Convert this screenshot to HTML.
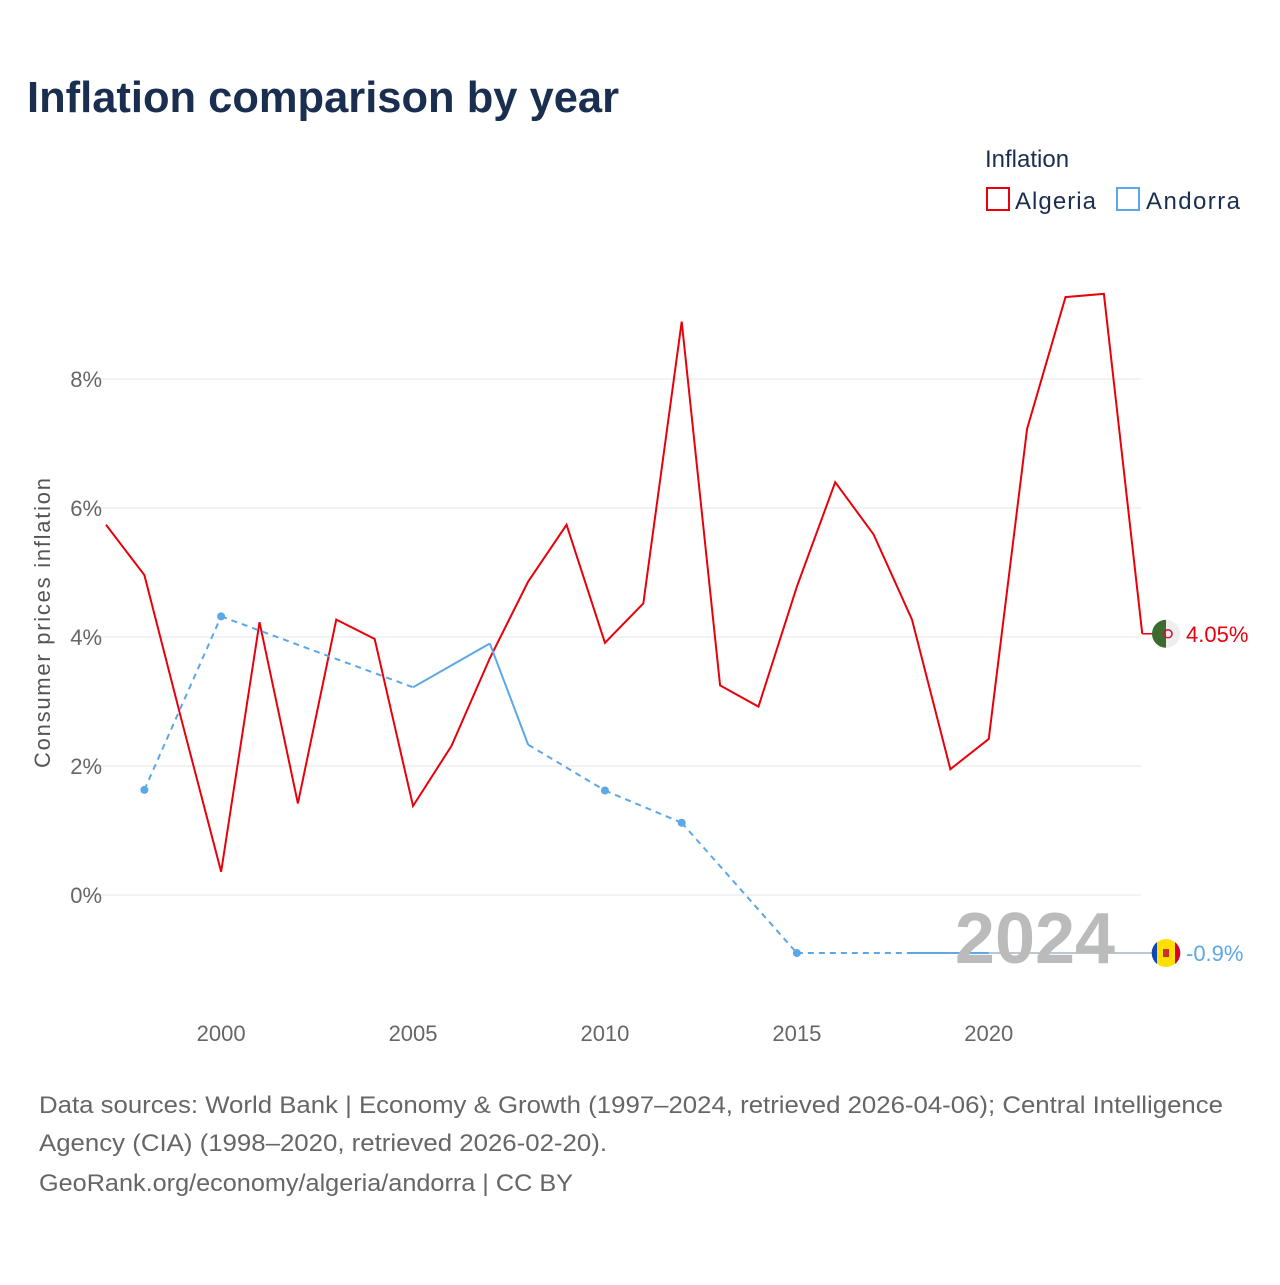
<!DOCTYPE html>
<html><head><meta charset="utf-8"><style>
body{margin:0;background:#fff;font-family:"Liberation Sans",sans-serif}
</style></head><body>
<svg id="c" width="1280" height="1280" xmlns="http://www.w3.org/2000/svg" style="font-family:'Liberation Sans',sans-serif">
<text x="27" y="112" font-size="44" font-weight="bold" fill="#1a2e4f" textLength="592" lengthAdjust="spacingAndGlyphs">Inflation comparison by year</text>
<g>
<text x="985" y="167" font-size="24" fill="#1a2e4f">Inflation</text>
<g><rect x="987" y="188" width="22" height="22" fill="none" stroke="#e8000b" stroke-width="2"/><text x="1015" y="209" font-size="24" fill="#1a2e4f" textLength="81">Algeria</text></g>
<g><rect x="1117" y="188" width="22" height="22" fill="none" stroke="#5ba7e8" stroke-width="2"/><text x="1146" y="209" font-size="24" fill="#1a2e4f" textLength="94">Andorra</text></g>
</g>
<g id="grid"></g><g id="marks"></g>
<text transform="translate(50,623) rotate(-90)" text-anchor="middle" font-size="22" fill="#555" textLength="290">Consumer prices inflation</text>
<text x="1035" y="963" text-anchor="middle" font-size="72" font-weight="bold" fill="#bbb">2024</text>
<g font-size="24" fill="#666">
<text x="39" y="1113" textLength="1184" lengthAdjust="spacingAndGlyphs">Data sources: World Bank | Economy &amp; Growth (1997–2024, retrieved 2026-04-06); Central Intelligence</text>
<text x="39" y="1151" textLength="568" lengthAdjust="spacingAndGlyphs">Agency (CIA) (1998–2020, retrieved 2026-02-20).</text>
<text x="39" y="1191" textLength="534" lengthAdjust="spacingAndGlyphs">GeoRank.org/economy/algeria/andorra | CC BY</text>
</g>
</svg>
<script>
const algYears=[1997,1998,1999,2000,2001,2002,2003,2004,2005,2006,2007,2008,2009,2010,2011,2012,2013,2014,2015,2016,2017,2018,2019,2020,2021,2022,2023,2024];
const algValues=[5.74,4.96,2.64,0.36,4.23,1.42,4.27,3.97,1.38,2.31,3.67,4.86,5.74,3.91,4.52,8.89,3.25,2.92,4.78,6.40,5.59,4.27,1.95,2.42,7.23,9.27,9.32,4.05];
const andYears=[1998,2000,2005,2006,2007,2008,2010,2012,2015,2018,2019,2020];
const andValues=[1.63,4.32,3.22,3.56,3.9,2.33,1.62,1.12,-0.9,-0.9,-0.9,-0.9];
const yTicks=[0,2,4,6,8];
const xTicks=[2000,2005,2010,2015,2020];
const NS="http://www.w3.org/2000/svg";
const X=y=>106+(y-1997)*38.38;
const Y=v=>895-v*64.5;
function mk(t,a,p){const e=document.createElementNS(NS,t);for(const k in a)e.setAttribute(k,a[k]);p.appendChild(e);return e;}
const g=document.getElementById('grid'),m=document.getElementById('marks');
yTicks.forEach(v=>{
const l=mk('line',{x1:88,x2:1141,y1:Y(v),y2:Y(v),stroke:'#e6e6e6'},g);


const t=mk('text',{x:102,y:Y(v)+8,'text-anchor':'end','font-size':22,fill:'#666'},g);t.textContent=v+'%';


});
xTicks.forEach(v=>{
const t=mk('text',{x:X(v),y:1041,'text-anchor':'middle','font-size':22,fill:'#666'},g);t.textContent=v;


});
const ap=mk('polyline',{points:algYears.map((y,i)=>X(y)+','+Y(algValues[i])).join(' '),fill:'none',stroke:'#e8000b','stroke-width':2},m);


for(let i=0;i<andYears.length-1;i++){
const s=mk('line',{x1:X(andYears[i]),y1:Y(andValues[i]),x2:X(andYears[i+1]),y2:Y(andValues[i+1]),stroke:'#5ba7e8','stroke-width':2},m);
if(andYears[i+1]-andYears[i]>1)s.setAttribute('stroke-dasharray','6,5');


}
andYears.forEach((y,i)=>{
const prev=i>0&&andYears[i-1]===y-1,next=i<andYears.length-1&&andYears[i+1]===y+1;
if(!prev&&!next){const c=mk('circle',{cx:X(y),cy:Y(andValues[i]),r:4,fill:'#5ba7e8'},m);

}
});
const aLast=algValues[algValues.length-1],dLast=andValues[andValues.length-1];
const c1=mk('line',{x1:X(2024),y1:Y(aLast),x2:1155,y2:Y(aLast),stroke:'#e8000b','stroke-width':1.5},m);


const c2=mk('line',{x1:X(andYears[andYears.length-1]),y1:Y(dLast),x2:1155,y2:Y(dLast),stroke:'#7a8fa8','stroke-width':1},m);


const fa=mk('g',{},m);
mk('path',{d:`M1166 ${Y(aLast)-14} A14 14 0 0 0 1166 ${Y(aLast)+14} Z`,fill:'#3d6b2d'},fa);
mk('path',{d:`M1166 ${Y(aLast)-14} A14 14 0 0 1 1166 ${Y(aLast)+14} Z`,fill:'#eee'},fa);
mk('circle',{cx:1168,cy:Y(aLast),r:4,fill:'none',stroke:'#d21034','stroke-width':1.5},fa);
const fd=mk('g',{},m);
mk('circle',{cx:1166,cy:Y(dLast),r:14,fill:'#fedf00'},fd);
mk('path',{d:`M1157 ${Y(dLast)-11} A14 14 0 0 0 1157 ${Y(dLast)+11} Z`,fill:'#1046b0'},fd);
mk('path',{d:`M1175 ${Y(dLast)-11} A14 14 0 0 1 1175 ${Y(dLast)+11} Z`,fill:'#d50032'},fd);
mk('rect',{x:1163,y:Y(dLast)-4,width:6,height:8,fill:'#c7302b'},fd);
const la=mk('text',{x:1186,y:Y(aLast)+8,'font-size':22,fill:'#e8000b'},m);la.textContent=aLast.toFixed(2)+'%';

const ld=mk('text',{x:1186,y:Y(dLast)+8,'font-size':22,fill:'#5ba7e8'},m);ld.textContent=dLast+'%';

</script>
</body></html>
